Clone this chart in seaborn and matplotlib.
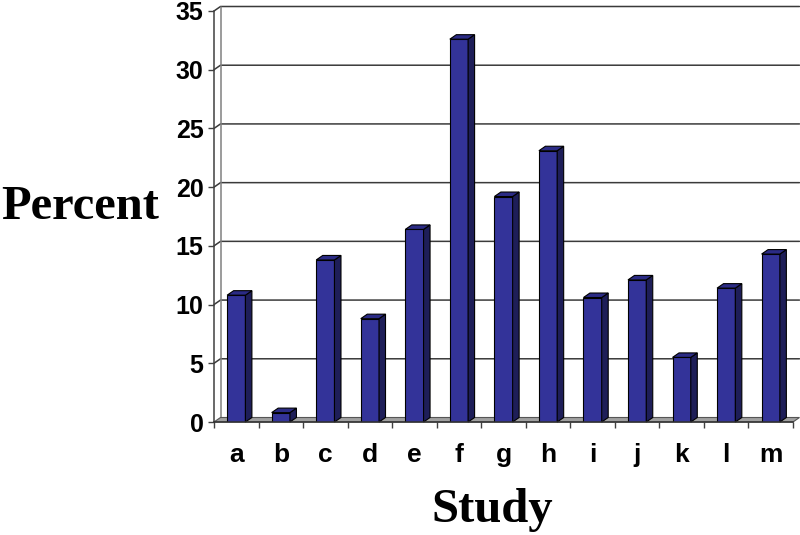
import matplotlib
matplotlib.use("Agg")
import matplotlib.pyplot as plt
from matplotlib.patches import Polygon
import numpy as np
import seaborn as sns

# Data
studies = ['a', 'b', 'c', 'd', 'e', 'f', 'g', 'h', 'i', 'j', 'k', 'l', 'm']
percent = [10.8, 0.8, 13.8, 8.8, 16.4, 32.6, 19.2, 23.1, 10.6, 12.1, 5.5, 11.4, 14.3]
y_ticks = [0, 5, 10, 15, 20, 25, 30, 35]

sns.set_style('white')
plt.rcParams['font.family'] = ['Liberation Sans', 'DejaVu Sans']
plt.rcParams['text.color'] = 'black'
plt.rcParams['xtick.color'] = 'black'
plt.rcParams['ytick.color'] = 'black'
plt.rcParams['axes.labelcolor'] = 'black'

fig = plt.figure(figsize=(8, 5.35), dpi=100)
ax = fig.add_axes([214 / 800, 113 / 535, 579 / 800, 411 / 535])

xmin, xmax = -0.5, len(studies) - 0.5
ymin, ymax = 0, 35
ax.set_xlim(xmin, xmax)
ax.set_ylim(ymin, ymax)

# 3D depth offset (data units)
px_x = 579 / (xmax - xmin)
px_y = 411 / (ymax - ymin)
dx = 6.5 / px_x
dy = 4.5 / px_y

# back wall gridlines
for v in y_ticks[1:]:
    ax.plot([xmin, xmin + dx, xmax + dx], [v, v + dy, v + dy],
            color='#3a3a3a', lw=1.1, zorder=0, clip_on=False)
# back-left wall edge
ax.plot([xmin + dx, xmin + dx], [dy, ymax + dy], color='#808080', lw=1.1,
        zorder=0, clip_on=False)

# floor
floor = Polygon([[xmin, 0], [xmax, 0], [xmax + dx, dy], [xmin + dx, dy]],
                closed=True, facecolor='#a0a0a0', edgecolor='#555555',
                lw=0.8, zorder=0.5, clip_on=False)
ax.add_patch(floor)

sns.barplot(x=studies, y=percent, color='#333399', saturation=1, width=0.41,
            edgecolor='black', linewidth=0.8, ax=ax, zorder=2)

# side and top faces of the bars
for p in list(ax.patches):
    if p is floor:
        continue
    x0, w, h = p.get_x(), p.get_width(), p.get_height()
    x1 = x0 + w
    side = Polygon([[x1, 0], [x1 + dx, dy], [x1 + dx, h + dy], [x1, h]],
                   closed=True, facecolor='#1e1e58', edgecolor='black',
                   lw=0.8, zorder=2, clip_on=False)
    top = Polygon([[x0, h], [x1, h], [x1 + dx, h + dy], [x0 + dx, h + dy]],
                  closed=True, facecolor='#2b2b85', edgecolor='black',
                  lw=0.8, zorder=2, clip_on=False)
    ax.add_patch(side)
    ax.add_patch(top)

# spines
for s in ['top', 'right']:
    ax.spines[s].set_visible(False)
ax.spines['left'].set_color('#404040')
ax.spines['left'].set_linewidth(1.1)
ax.spines['bottom'].set_color('#303030')
ax.spines['bottom'].set_linewidth(1.1)
ax.spines['left'].set_zorder(3)
ax.spines['bottom'].set_zorder(3)

# y ticks
ax.set_yticks(y_ticks)
ax.set_yticklabels([str(v) for v in y_ticks], fontsize=18, fontweight='bold')
ax.tick_params(axis='y', direction='out', length=4.5, width=1, color='#404040',
               labelcolor='black', pad=3, left=True)

# x ticks: marks at category boundaries, labels at centres
ax.set_xticks(np.arange(len(studies) + 1) - 0.5)
ax.set_xticklabels([])
ax.tick_params(axis='x', which='major', direction='out', length=4.5, width=1,
               color='#404040', bottom=True)
ax.set_xticks(np.arange(len(studies)), minor=True)
ax.set_xticklabels(studies, minor=True, fontsize=19, fontweight='bold')
ax.tick_params(axis='x', which='minor', length=0, pad=15, labelcolor='black')

ax.set_xlabel('')
ax.set_ylabel('')
fig.text(80 / 800, 1 - 207 / 535, 'Percent', family=['Liberation Serif'],
         fontsize=35, fontweight='bold', ha='center', va='center', color='black')
fig.text(492 / 800, 1 - 510 / 535, 'Study', family=['Liberation Serif'],
         fontsize=35, fontweight='bold', ha='center', va='center', color='black')

fig.savefig('out.png', dpi=100)
